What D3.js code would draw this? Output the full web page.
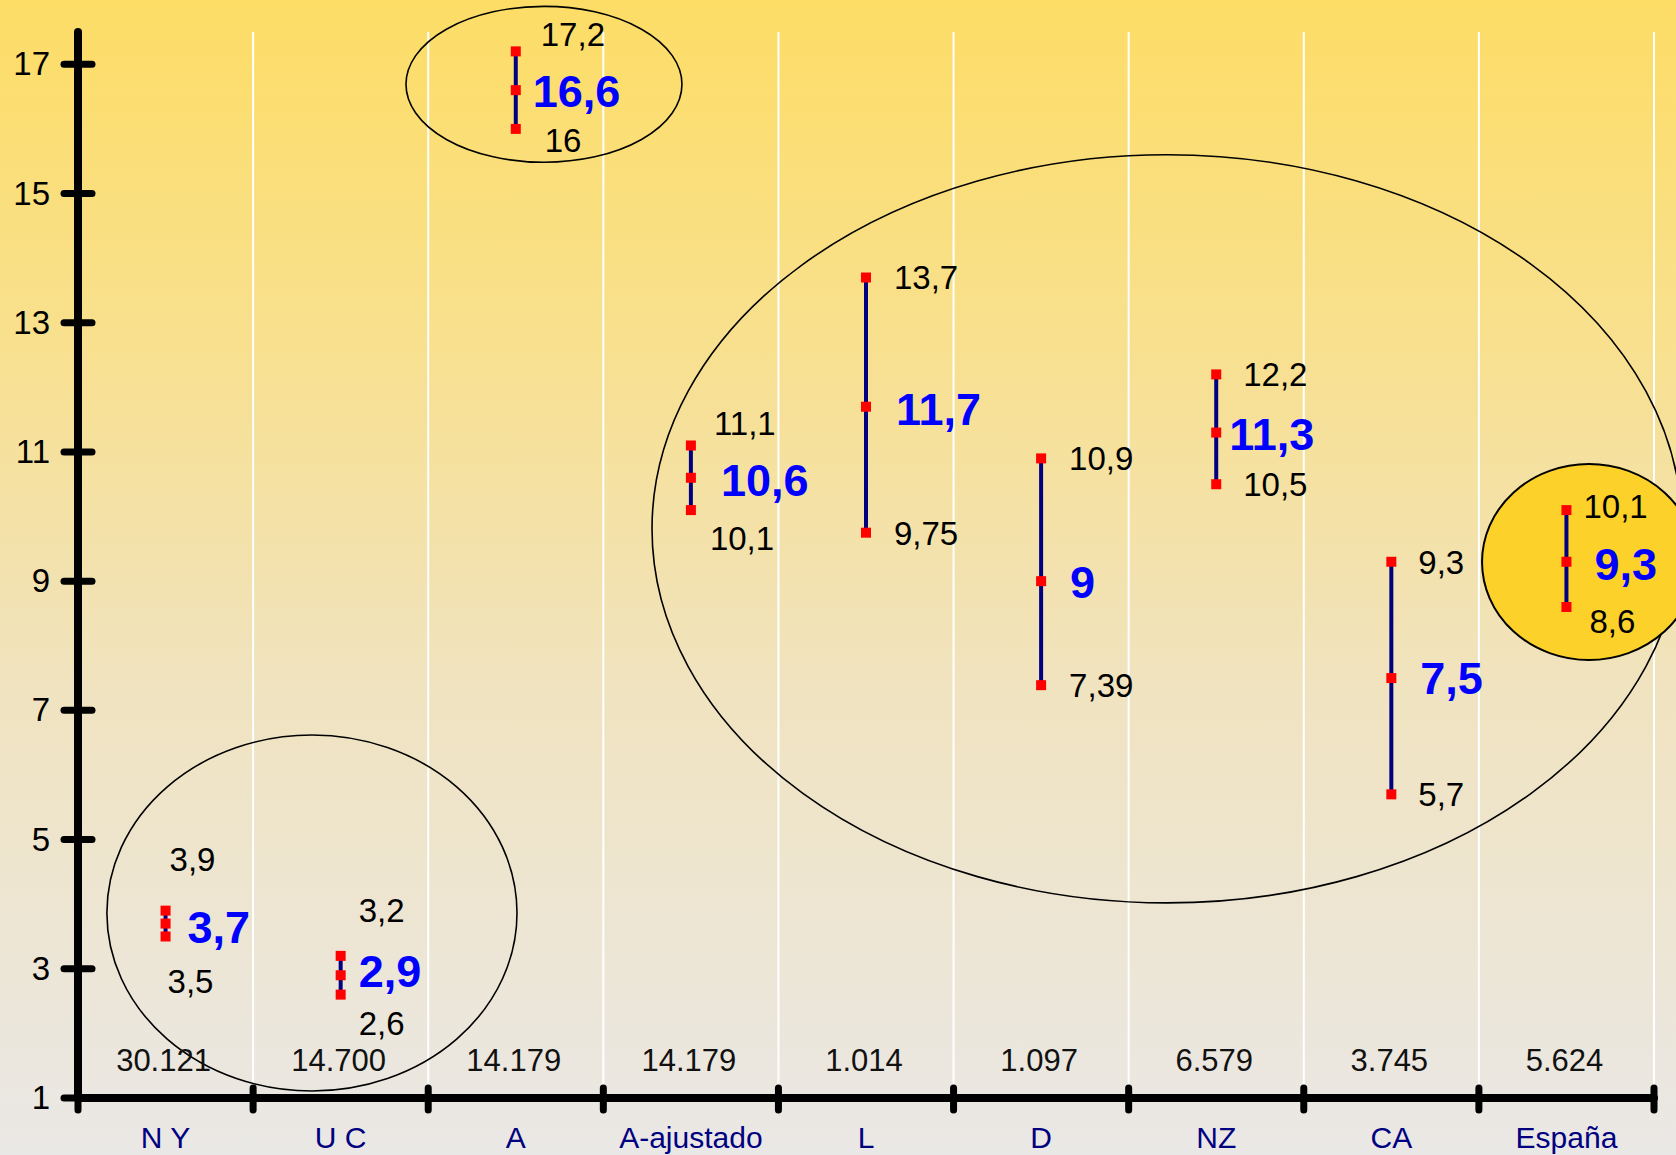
<!DOCTYPE html>
<html><head><meta charset="utf-8">
<script src="https://cdn.jsdelivr.net/npm/d3@7"></script>
<style>html,body{margin:0;padding:0;overflow:hidden;}svg{display:block;font-family:Arial,"Liberation Sans",sans-serif;}</style>
</head><body>
<svg id="chart" width="1676" height="1155"></svg>
<script>
const categories = ["N Y","U C","A","A-ajustado","L","D","NZ","CA","España"];
const counts = ["30.121","14.700","14.179","14.179","1.014","1.097","6.579","3.745","5.624"];
const lowVals = [3.5,2.6,16,10.1,9.75,7.39,10.5,5.7,8.6];
const midVals = [3.7,2.9,16.6,10.6,11.7,9,11.3,7.5,9.3];
const highVals = [3.9,3.2,17.2,11.1,13.7,10.9,12.2,9.3,10.1];
const lowLabels = ["3,5","2,6","16","10,1","9,75","7,39","10,5","5,7","8,6"];
const midLabels = ["3,7","2,9","16,6","10,6","11,7","9","11,3","7,5","9,3"];
const highLabels = ["3,9","3,2","17,2","11,1","13,7","10,9","12,2","9,3","10,1"];
const yTicks = [1,3,5,7,9,11,13,15,17];

// layout (pixel offsets of labels relative to their marks)
const hiOff = [[4,-52],[18,-46],[25,-17],[23,-22],[28,0],[28,0],[27,0],[27,0],[17,-4]];
const loOff = [[2,45],[18,28],[29,11],[19,28],[28,0],[28,0],[27,0],[27,0],[23,14]];
const midOff = [[22,3],[18,-4],[17,1],[30,2],[30,2],[29,1],[13,1],[29,0],[28,2]];
// annotation ellipses in band / value units
const ellipses = [
  {xb:2.661, v:16.69, rxb:0.788, rv:1.207, fill:"none", sw:1.6},
  {xb:6.219, v:9.81, rxb:2.941, rv:5.79, fill:"none", sw:1.6},
  {xb:1.336, v:3.864, rxb:1.171, rv:2.755, fill:"none", sw:1.6},
  {xb:8.629, v:9.297, rxb:0.611, rv:1.517, fill:"#FCD12A", sw:2}
];

const svg = d3.select("#chart");
const W = 1676, H = 1155;
const x = d3.scaleBand().domain(categories).range([78, 1654]).padding(0);
const y = d3.scaleLinear().domain([1, 17.5]).range([1098, 32]);
const bw = x.bandwidth();
const bx = b => x.range()[0] + b * bw;

const defs = svg.append("defs");
const grad = defs.append("linearGradient").attr("id","bg").attr("x1",0).attr("y1",0).attr("x2",0).attr("y2",1);
grad.append("stop").attr("offset","0%").attr("stop-color","#FDDD66");
grad.append("stop").attr("offset","30%").attr("stop-color","#F8E08F");
grad.append("stop").attr("offset","60%").attr("stop-color","#F0E3C0");
grad.append("stop").attr("offset","100%").attr("stop-color","#EAE8E6");
svg.append("rect").attr("width",W).attr("height",H).attr("fill","url(#bg)");

// white gridlines at band boundaries
svg.append("g").selectAll("line").data(categories).join("line")
  .attr("x1", d => x(d) + bw).attr("x2", d => x(d) + bw)
  .attr("y1", y(17.5)).attr("y2", y(1))
  .attr("stroke","#fff").attr("stroke-width",2);

// ellipses (unfilled first, filled last)
svg.append("g").selectAll("ellipse").data(ellipses).join("ellipse")
  .attr("cx", d => bx(d.xb)).attr("cy", d => y(d.v))
  .attr("rx", d => d.rxb * bw).attr("ry", d => y(0) - y(d.rv))
  .attr("fill", d => d.fill).attr("stroke","#000").attr("stroke-width", d => d.sw);

// y axis
const yAxis = d3.axisLeft(y).tickValues(yTicks).tickSize(0).tickPadding(28).tickFormat(d3.format("d"));
const gy = svg.append("g").attr("transform","translate(78,0)").call(yAxis);
gy.select(".domain").remove();
gy.selectAll("text").attr("font-size",33).attr("fill","#000").attr("font-family","Arial, 'Liberation Sans', sans-serif");
svg.append("line").attr("x1",78).attr("x2",78).attr("y1",y(17.5)).attr("y2",y(1))
  .attr("stroke","#000").attr("stroke-width",8).attr("stroke-linecap","round");
svg.append("g").selectAll("line").data(yTicks).join("line")
  .attr("x1",64).attr("x2",92).attr("y1",d=>y(d)).attr("y2",d=>y(d))
  .attr("stroke","#000").attr("stroke-width",7).attr("stroke-linecap","round");

// x axis
const xAxis = d3.axisBottom(x).tickSize(0).tickPadding(29);
const gx = svg.append("g").attr("transform",`translate(0,${y(1)})`).call(xAxis);
gx.select(".domain").remove();
gx.selectAll("text").attr("font-size",30).attr("fill","#000080").attr("font-family","Arial, 'Liberation Sans', sans-serif");
svg.append("line").attr("x1",78).attr("x2",1654).attr("y1",y(1)).attr("y2",y(1))
  .attr("stroke","#000").attr("stroke-width",8).attr("stroke-linecap","round");
const bounds = [x.range()[0]].concat(categories.map(c => x(c) + bw));
svg.append("g").selectAll("line").data(bounds).join("line")
  .attr("x1",d=>d).attr("x2",d=>d).attr("y1",y(1)-10).attr("y2",y(1)+12)
  .attr("stroke","#000").attr("stroke-width",7).attr("stroke-linecap","round");

// count labels
svg.append("g").selectAll("text").data(categories).join("text")
  .attr("x", d => x(d) + bw/2 - 2).attr("y", y(1) - 27)
  .attr("text-anchor","middle").attr("font-size",31).attr("fill","#111")
  .text((d,i) => counts[i]);

// error bars
const cx = i => x(categories[i]) + bw/2;
const g = svg.append("g");
g.selectAll("line").data(categories).join("line")
  .attr("x1",(d,i)=>cx(i)).attr("x2",(d,i)=>cx(i))
  .attr("y1",(d,i)=>y(lowVals[i])).attr("y2",(d,i)=>y(highVals[i]))
  .attr("stroke","#000080").attr("stroke-width",4);
[lowVals, midVals, highVals].forEach(arr => {
  g.append("g").selectAll("rect").data(arr).join("rect")
    .attr("x",(d,i)=>cx(i)-5).attr("y",d=>y(d)-5)
    .attr("width",10).attr("height",10).attr("fill","#FF0000");
});

// value labels
function labels(arr, vals, off, opts) {
  svg.append("g").selectAll("text").data(arr).join("text")
    .attr("x",(d,i)=>cx(i)+off[i][0]).attr("y",(d,i)=>y(vals[i])+off[i][1])
    .attr("dy","0.36em").attr("font-size",opts.size).attr("font-weight",opts.weight)
    .attr("fill",opts.color).text(d=>d);
}
labels(highLabels, highVals, hiOff, {size:33, weight:"normal", color:"#000"});
labels(lowLabels, lowVals, loOff, {size:33, weight:"normal", color:"#000"});
labels(midLabels, midVals, midOff, {size:45, weight:"bold", color:"#0000FF"});
</script>
</body></html>
